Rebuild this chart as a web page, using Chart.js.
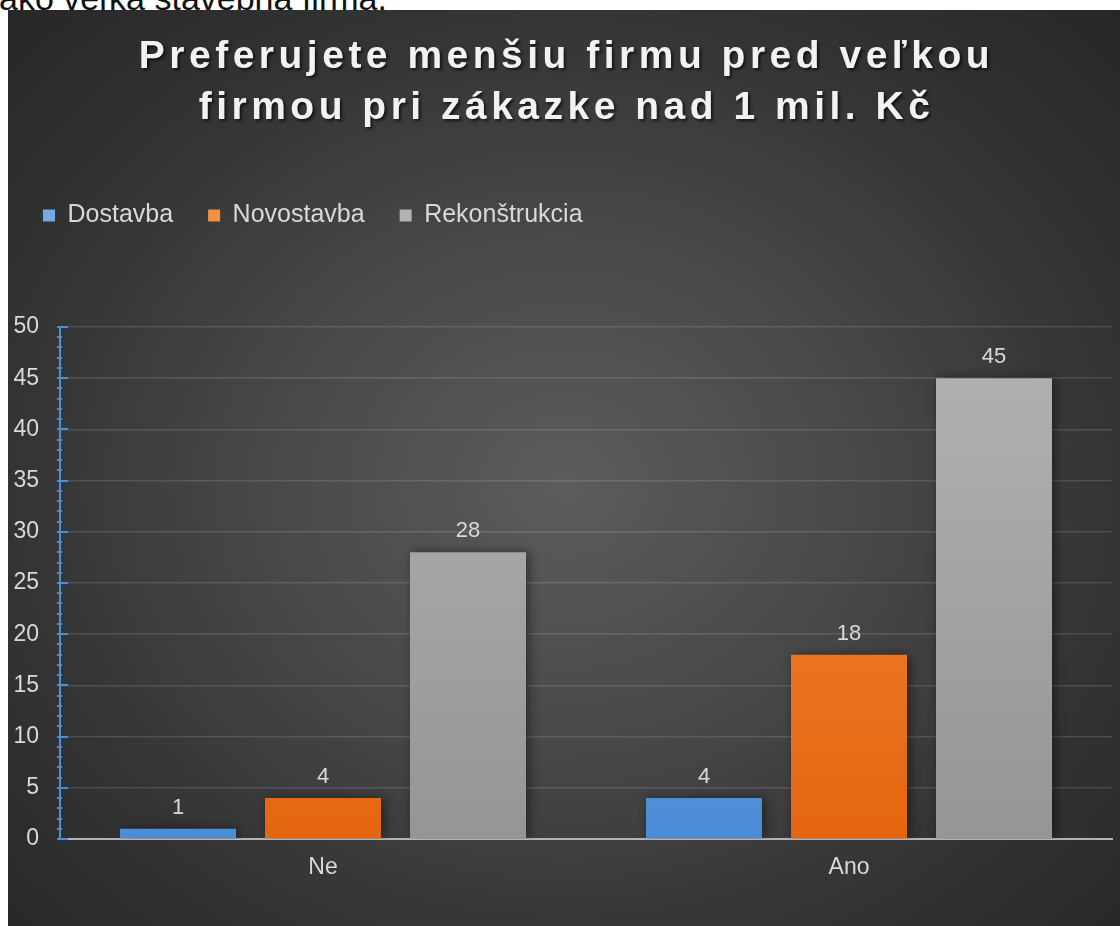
<!DOCTYPE html>
<html>
<head>
<meta charset="utf-8">
<script src="https://cdn.jsdelivr.net/npm/chart.js@4.4.1/dist/chart.umd.min.js"></script>
<style>
  html, body { margin: 0; padding: 0; background: #fff; width: 1120px; height: 926px; overflow: hidden; font-family: "Liberation Sans", Arial, sans-serif; }
  #caption { position: absolute; left: -1px; top: -16px; font-size: 34px; line-height: 28px; color: #111; white-space: nowrap; }
  #panel {
    position: absolute; left: 8px; top: 10px; width: 1112px; height: 916px; overflow: hidden;
    background: radial-gradient(ellipse at 50% 52%, #5c5c5c 0%, #484848 38%, #343434 70%, #272727 100%);
  }
  #title {
    position: absolute; left: 0; top: 19px; width: 100%; padding-left: 5px; box-sizing: border-box;
    text-align: center; font-weight: bold; font-size: 39px; line-height: 51px; letter-spacing: 4.5px;
    color: #f2f2f2; text-shadow: 2px 2px 3px rgba(0, 0, 0, 0.65);
  }
  #chart { position: absolute; left: 0; top: 0; }
</style>
</head>
<body>
<div id="caption">ako veľká stavebná firma.</div>
<div id="panel">
  <canvas id="chart" width="1112" height="916"></canvas>
  <div id="title">Preferujete menšiu firmu pred veľkou<br>firmou pri zákazke nad 1 mil. Kč</div>
</div>
<script>
// data
const categories = ["Ne", "Ano"];
const seriesNames = ["Dostavba", "Novostavba", "Rekonštrukcia"];
const dostavba = [1, 4];
const novostavba = [4, 18];
const rekonstrukcia = [28, 45];
const yMin = 0, yMax = 50, yStep = 5;

// styling
const FONT = '"Liberation Sans", Arial, sans-serif';
const TEXT = "#d9d9d9";
const solidColors = ["#5b9bd5", "#ed7d31", "#a5a5a5"];
const gradColors = [["#72aae3", "#4a8dd6"], ["#f58d42", "#e4660f"], ["#b3b3b3", "#959595"]];

function barFill(i) {
  return (ctx) => {
    const area = ctx.chart.chartArea;
    if (ctx.type !== "data" || !area) return solidColors[i];
    const g = ctx.chart.ctx.createLinearGradient(0, area.top, 0, area.bottom);
    g.addColorStop(0, gradColors[i][0]);
    g.addColorStop(1, gradColors[i][1]);
    return g;
  };
}

// push the plot down below the legend
const legendSpacing = {
  id: "legendSpacing",
  beforeInit(chart) {
    const fit = chart.legend.fit;
    chart.legend.fit = function () { fit.call(this); this.height += 89; };
  }
};

const barShadow = {
  id: "barShadow",
  beforeDatasetsDraw(chart) {
    const c = chart.ctx;
    c.save();
    c.shadowColor = "rgba(0,0,0,0.45)";
    c.shadowBlur = 10;
    c.shadowOffsetX = 3;
  },
  afterDatasetsDraw(chart) { chart.ctx.restore(); }
};

const valueLabels = {
  id: "valueLabels",
  afterDatasetsDraw(chart) {
    const c = chart.ctx;
    c.save();
    c.font = "22px " + FONT;
    c.fillStyle = TEXT;
    c.textAlign = "center";
    c.textBaseline = "middle";
    chart.data.datasets.forEach((ds, i) => {
      chart.getDatasetMeta(i).data.forEach((bar, j) => {
        c.fillText(String(ds.data[j]), bar.x, bar.y - 21);
      });
    });
    c.restore();
  }
};

// blue major / minor tick marks on the value axis
const axisTicks = {
  id: "axisTicks",
  afterDraw(chart) {
    const c = chart.ctx, y = chart.scales.y, x0 = chart.chartArea.left;
    c.save();
    c.strokeStyle = "#4a90d9";
    c.lineWidth = 2;
    for (let v = yMin; v <= yMax; v++) {
      const py = Math.round(y.getPixelForValue(v));
      const major = v % yStep === 0;
      c.beginPath();
      c.moveTo(x0 - 3, py);
      c.lineTo(x0 + (major ? 8 : 2), py);
      c.stroke();
    }
    c.restore();
  }
};

const datasets = [dostavba, novostavba, rekonstrukcia].map((vals, i) => ({
  label: seriesNames[i],
  data: vals,
  backgroundColor: barFill(i),
  borderWidth: 0,
  categoryPercentage: 0.827,
  barPercentage: 0.8
}));

new Chart(document.getElementById("chart"), {
  type: "bar",
  data: { labels: categories, datasets },
  options: {
    responsive: false,
    animation: false,
    layout: { padding: { top: 158, left: 0, right: 8, bottom: 27 } },
    plugins: {
      title: { display: false },
      tooltip: { enabled: false },
      legend: {
        position: "top",
        align: "start",
        labels: { boxWidth: 12, boxHeight: 12, padding: 35, color: TEXT, font: { size: 25, family: FONT } }
      }
    },
    scales: {
      x: {
        offset: true,
        grid: { display: false, drawTicks: false },
        border: { color: "#b4b4b4", width: 2 },
        ticks: { color: TEXT, font: { size: 23, family: FONT }, padding: 15 },
        afterFit(s) { s.height = 60; }
      },
      y: {
        min: yMin, max: yMax,
        ticks: { stepSize: yStep, color: TEXT, font: { size: 23, family: FONT }, padding: 21 },
        grid: { color: "rgba(255,255,255,0.13)", lineWidth: 1.5, drawTicks: false },
        border: { color: "#4a90d9", width: 2 },
        afterFit(s) { s.width = 52; }
      }
    }
  },
  plugins: [legendSpacing, barShadow, valueLabels, axisTicks]
});
</script>
</body>
</html>
